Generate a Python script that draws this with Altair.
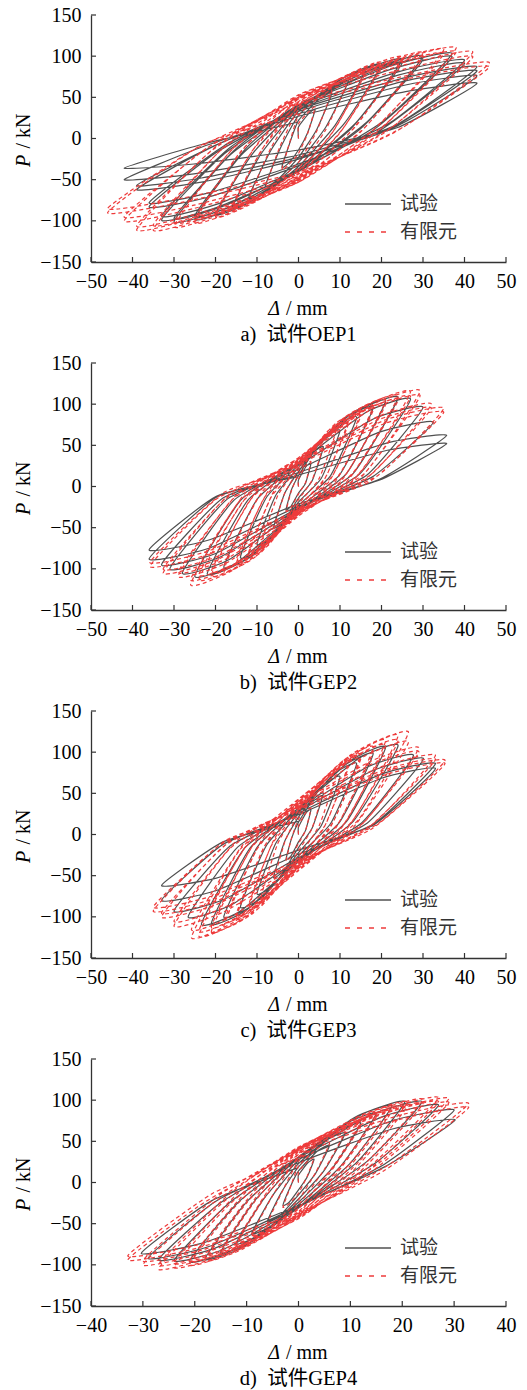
import altair as alt
import pandas as pd

SERIF = "Liberation Serif"
CJK = "Noto Sans CJK SC"
MIXED = "Liberation Serif, Noto Sans CJK SC"
GRAY = "#505050"
RED = "#ee3b3b"
AXIS_COLOR = "#333333"

X_TICKS_50 = [-50, -40, -30, -20, -10, 0, 10, 20, 30, 40, 50]
X_TICKS_40 = [-40, -30, -20, -10, 0, 10, 20, 30, 40]
Y_TICKS = [-150, -100, -50, 0, 50, 100, 150]
LEGEND_LABELS = ["试验", "有限元"]
CAPTIONS = ["a)\u2002试件OEP1", "b)\u2002试件GEP2", "c)\u2002试件GEP3", "d)\u2002试件GEP4"]

# ---- panel a: OEP1 ----
A_TEST = [
    (0, 0),
    (0, 14), (2.4, 30), (4, 35), (2.2, 7), (0, -14), (-2.4, -30), (-4, -35), (-2.2, -7),
    (0, 22), (4.8, 47), (8, 55), (4.4, 11), (0, -23), (-4.8, -49), (-8, -58), (-4.4, -12),
    (0, 28), (7.2, 60), (12, 70), (6.6, 14), (0, -29), (-7.2, -61), (-12, -72), (-6.6, -14),
    (0, 33), (9.6, 70), (16, 82), (8.8, 16), (0, -34), (-9.6, -71), (-16, -84), (-8.8, -17),
    (0, 36), (12, 77), (20, 90), (11, 18), (0, -37), (-12, -78), (-20, -92), (-11, -18),
    (0, 38), (15, 82), (25, 96), (13.8, 19), (0, -39), (-15, -83), (-25, -98), (-13.8, -20),
    (0, 37), (15, 78), (25, 92), (12.5, 11), (0, -38), (-15, -80), (-25, -94), (-12.5, -11),
    (0, 40), (18, 85), (30, 100), (16.5, 20), (0, -40), (-18, -86), (-30, -101), (-16.5, -20),
    (0, 38), (18, 82), (30, 96), (15, 12), (0, -39), (-18, -82), (-30, -97), (-15, -12),
    (0, 41), (22.2, 88), (37, 103), (20.4, 21), (0, -40), (-19.8, -84), (-33, -99), (-18.2, -20),
    (0, 40), (22.2, 84), (37, 99), (18.5, 12), (0, -38), (-19.8, -80), (-33, -94), (-16.5, -11),
    (0, 38), (24, 81), (40, 95), (22, 19), (0, -33), (-21.6, -71), (-36, -83), (-19.8, -17),
    (0, 36), (24, 77), (40, 91), (20, 11), (0, -31), (-21.6, -66), (-36, -78), (-18, -9),
    (0, 35), (25.8, 74), (43, 87), (23.7, 17), (0, -25), (-23.4, -53), (-39, -62), (-21.5, -12),
    (0, 33), (25.8, 70), (43, 82), (21.5, 10), (0, -23), (-23.4, -48), (-39, -57), (-19.5, -7),
    (0, 30), (25.8, 65), (43, 76), (23.7, 15), (0, -20), (-25.2, -43), (-42, -50), (-23.1, -10),
    (0, 27), (25.8, 57), (43, 67), (23.7, 13), (0, -14), (-25.2, -31), (-42, -36), (-23.1, -7),
    (0, 20),
]
A_FE = [
    (0, 0),
    (0, 18), (2.4, 32), (4, 38), (2.2, 6), (0, -18), (-2.4, -32), (-4, -38), (-2.2, -6),
    (0, 28), (4.8, 49), (8, 58), (4.4, 9), (0, -29), (-4.8, -51), (-8, -60), (-4.4, -9),
    (0, 35), (7.2, 61), (12, 72), (6.6, 11), (0, -36), (-7.2, -64), (-12, -75), (-6.6, -11),
    (0, 40), (9.6, 71), (16, 83), (8.8, 12), (0, -41), (-9.6, -73), (-16, -86), (-8.8, -13),
    (0, 38), (9.6, 67), (16, 79), (8, 6), (0, -39), (-9.6, -70), (-16, -82), (-8, -7),
    (0, 44), (12, 78), (20, 92), (11, 14), (0, -46), (-12, -81), (-20, -95), (-11, -14),
    (0, 42), (12, 74), (20, 87), (10, 7), (0, -43), (-12, -77), (-20, -90), (-10, -7),
    (0, 48), (15, 84), (25, 99), (13.8, 15), (0, -49), (-15, -87), (-25, -102), (-13.8, -15),
    (0, 45), (15, 80), (25, 94), (12.5, 8), (0, -47), (-15, -82), (-25, -97), (-12.5, -8),
    (0, 50), (18, 88), (30, 104), (16.5, 16), (0, -51), (-18, -91), (-30, -107), (-16.5, -16),
    (0, 48), (18, 84), (30, 99), (15, 8), (0, -49), (-18, -87), (-30, -102), (-15, -8),
    (0, 52), (21, 92), (35, 108), (19.3, 16), (0, -53), (-21, -94), (-35, -111), (-19.3, -17),
    (0, 50), (21, 88), (35, 103), (17.5, 8), (0, -50), (-21, -89), (-35, -105), (-17.5, -8),
    (0, 53), (22.8, 94), (38, 110), (20.9, 17), (0, -53), (-23.4, -94), (-39, -111), (-21.5, -17),
    (0, 50), (22.8, 89), (38, 105), (19, 8), (0, -51), (-23.4, -90), (-39, -106), (-19.5, -8),
    (0, 50), (25.2, 89), (42, 105), (23.1, 16), (0, -48), (-25.2, -85), (-42, -100), (-23.1, -15),
    (0, 48), (25.2, 84), (42, 99), (21, 8), (0, -46), (-25.2, -81), (-42, -95), (-21, -8),
    (0, 44), (27.6, 78), (46, 92), (25.3, 14), (0, -43), (-27.6, -77), (-46, -90), (-25.3, -14),
    (0, 42), (27.6, 74), (46, 87), (23, 7), (0, -41), (-27.6, -72), (-46, -85), (-23, -7),
    (0, 30),
]

# ---- panel b: GEP2 ----
B_TEST = [
    (0, 0),
    (0, 8), (1.8, 24), (3, 28), (1.7, 4), (0, -8), (-1.8, -24), (-3, -28), (-1.7, -4),
    (0, 13), (3.6, 41), (6, 48), (3.3, 7), (0, -14), (-3.6, -43), (-6, -50), (-3.3, -8),
    (0, 18), (6, 58), (10, 68), (5.5, 10), (0, -19), (-6, -60), (-10, -70), (-5.5, -11),
    (0, 23), (8.4, 71), (14, 84), (7.7, 13), (0, -23), (-8.4, -73), (-14, -86), (-7.7, -13),
    (0, 26), (10.8, 82), (18, 96), (9.9, 14), (0, -26), (-10.8, -83), (-18, -98), (-9.9, -15),
    (0, 28), (12.6, 88), (21, 104), (11.6, 16), (0, -29), (-13.2, -90), (-22, -106), (-12.1, -16),
    (0, 29), (14.4, 92), (24, 108), (13.2, 16), (0, -29), (-15, -93), (-25, -109), (-13.8, -16),
    (0, 29), (16.2, 90), (27, 106), (14.9, 16), (0, -28), (-16.8, -89), (-28, -105), (-15.4, -16),
    (0, 26), (18, 82), (30, 96), (16.5, 14), (0, -27), (-18.6, -85), (-31, -100), (-17.1, -15),
    (0, 21), (19.5, 66), (32.5, 78), (17.9, 12), (0, -26), (-19.8, -81), (-33, -95), (-18.2, -14),
    (0, 17), (21.4, 53), (35.7, 62), (19.6, 9), (0, -24), (-21.6, -75), (-36, -88), (-19.8, -13),
    (0, 14), (21.4, 44), (35.7, 52), (19.6, 8), (0, -21), (-21.6, -65), (-36, -77), (-19.8, -12),
    (0, 12),
]
B_FE = [
    (0, 0),
    (0, 9), (1.8, 26), (3, 30), (1.7, 5), (0, -9), (-1.8, -26), (-3, -30), (-1.7, -5),
    (0, 15), (3.6, 43), (6, 50), (3.3, 8), (0, -16), (-3.6, -44), (-6, -52), (-3.3, -8),
    (0, 20), (5.4, 57), (9, 67), (5, 10), (0, -21), (-5.4, -60), (-9, -70), (-5, -11),
    (0, 24), (7.2, 68), (12, 80), (6.6, 12), (0, -25), (-7.2, -71), (-12, -84), (-6.6, -13),
    (0, 23), (7.2, 65), (12, 76), (6, 6), (0, -24), (-7.2, -68), (-12, -80), (-6, -6),
    (0, 27), (9, 77), (15, 90), (8.3, 14), (0, -28), (-9, -80), (-15, -94), (-8.3, -14),
    (0, 26), (9, 73), (15, 86), (7.5, 7), (0, -27), (-9, -76), (-15, -89), (-7.5, -7),
    (0, 29), (10.8, 83), (18, 98), (9.9, 15), (0, -31), (-10.8, -87), (-18, -102), (-9.9, -15),
    (0, 28), (10.8, 79), (18, 93), (9, 7), (0, -29), (-10.8, -82), (-18, -97), (-9, -8),
    (0, 32), (12.6, 89), (21, 105), (11.6, 16), (0, -32), (-12.6, -92), (-21, -108), (-11.6, -16),
    (0, 30), (12.6, 85), (21, 100), (10.5, 8), (0, -31), (-12.6, -88), (-21, -103), (-10.5, -8),
    (0, 33), (14.4, 94), (24, 110), (13.2, 17), (0, -34), (-14.4, -96), (-24, -113), (-13.2, -17),
    (0, 32), (14.4, 89), (24, 105), (12, 8), (0, -32), (-14.4, -91), (-24, -107), (-12, -9),
    (0, 35), (16.2, 98), (27, 115), (14.9, 17), (0, -36), (-15.6, -101), (-26, -119), (-14.3, -18),
    (0, 33), (16.2, 93), (27, 109), (13.5, 9), (0, -34), (-15.6, -96), (-26, -113), (-13, -9),
    (0, 35), (17.6, 99), (29.3, 116), (16.1, 17), (0, -33), (-17.4, -93), (-29, -109), (-16, -16),
    (0, 33), (17.6, 94), (29.3, 110), (14.7, 9), (0, -31), (-17.4, -88), (-29, -104), (-14.5, -8),
    (0, 30), (19.2, 85), (32, 100), (17.6, 15), (0, -32), (-19.6, -89), (-32.6, -105), (-17.9, -16),
    (0, 29), (19.2, 81), (32, 95), (16, 8), (0, -30), (-19.6, -85), (-32.6, -100), (-16.3, -8),
    (0, 29), (21, 81), (35, 95), (19.3, 14), (0, -29), (-21.5, -82), (-35.8, -97), (-19.7, -15),
    (0, 27), (21, 77), (35, 90), (17.5, 7), (0, -28), (-21.5, -78), (-35.8, -92), (-17.9, -7),
    (0, 20),
]

# ---- panel c: GEP3 ----
C_TEST = [
    (0, 0),
    (0, 9), (1.8, 26), (3, 30), (1.7, 5), (0, -9), (-1.8, -26), (-3, -30), (-1.7, -5),
    (0, 15), (3.6, 43), (6, 50), (3.3, 8), (0, -16), (-3.6, -44), (-6, -52), (-3.3, -8),
    (0, 21), (6, 60), (10, 70), (5.5, 11), (0, -22), (-6, -61), (-10, -72), (-5.5, -11),
    (0, 26), (8.4, 73), (14, 86), (7.7, 13), (0, -26), (-8.4, -75), (-14, -88), (-7.7, -13),
    (0, 29), (10.8, 83), (18, 98), (9.9, 15), (0, -30), (-10.8, -85), (-18, -100), (-9.9, -15),
    (0, 32), (12.6, 90), (21, 106), (11.6, 16), (0, -32), (-12.6, -92), (-21, -108), (-11.6, -16),
    (0, 32), (14.4, 92), (24, 108), (13.2, 16), (0, -33), (-14, -93), (-23.4, -109), (-12.9, -16),
    (0, 29), (16.6, 82), (27.7, 96), (15.2, 14), (0, -30), (-16, -85), (-26.6, -100), (-14.6, -15),
    (0, 28), (18.1, 78), (30.1, 92), (16.6, 14), (0, -28), (-18, -79), (-30, -93), (-16.5, -14),
    (0, 26), (19.8, 73), (33, 86), (18.2, 13), (0, -24), (-19.8, -68), (-33, -80), (-18.2, -12),
    (0, 24), (19.8, 68), (33, 80), (18.2, 12), (0, -19), (-19.8, -53), (-33, -62), (-18.2, -9),
    (0, 16),
]
C_FE = [
    (0, 0),
    (0, 11), (1.8, 27), (3, 32), (1.7, 5), (0, -11), (-1.8, -27), (-3, -32), (-1.7, -5),
    (0, 19), (3.6, 47), (6, 55), (3.3, 8), (0, -20), (-3.6, -49), (-6, -58), (-3.3, -9),
    (0, 25), (5.4, 61), (9, 72), (5, 11), (0, -27), (-5.4, -65), (-9, -76), (-5, -11),
    (0, 30), (7.2, 73), (12, 86), (6.6, 13), (0, -32), (-7.2, -77), (-12, -90), (-6.6, -14),
    (0, 29), (7.2, 70), (12, 82), (6, 7), (0, -30), (-7.2, -73), (-12, -86), (-6, -7),
    (0, 34), (9, 82), (15, 97), (8.3, 15), (0, -36), (-9, -87), (-15, -102), (-8.3, -15),
    (0, 32), (9, 78), (15, 92), (7.5, 7), (0, -34), (-9, -82), (-15, -97), (-7.5, -8),
    (0, 37), (10.8, 90), (18, 106), (9.9, 16), (0, -39), (-10.8, -95), (-18, -112), (-9.9, -17),
    (0, 35), (10.8, 86), (18, 101), (9, 8), (0, -37), (-10.8, -90), (-18, -106), (-9, -8),
    (0, 40), (12.6, 97), (21, 114), (11.6, 17), (0, -41), (-12.6, -100), (-21, -118), (-11.6, -18),
    (0, 38), (12.6, 92), (21, 108), (10.5, 9), (0, -39), (-12.6, -95), (-21, -112), (-10.5, -9),
    (0, 42), (14.4, 102), (24, 120), (13.2, 18), (0, -43), (-14.4, -105), (-24, -123), (-13.2, -18),
    (0, 40), (14.4, 97), (24, 114), (12, 9), (0, -41), (-14.4, -99), (-24, -117), (-12, -9),
    (0, 43), (15.9, 105), (26.5, 124), (14.6, 19), (0, -44), (-15.5, -106), (-25.8, -125), (-14.2, -19),
    (0, 39), (15.9, 95), (26.5, 112), (13.3, 9), (0, -40), (-15.5, -98), (-25.8, -115), (-12.9, -9),
    (0, 37), (17.4, 89), (29, 105), (16, 16), (0, -39), (-18, -94), (-30, -111), (-16.5, -17),
    (0, 35), (17.4, 85), (29, 100), (14.5, 8), (0, -37), (-18, -89), (-30, -105), (-15, -8),
    (0, 34), (19.8, 82), (33, 96), (18.2, 14), (0, -35), (-19.8, -85), (-33, -100), (-18.2, -15),
    (0, 32), (19.8, 77), (33, 91), (16.5, 7), (0, -33), (-19.8, -81), (-33, -95), (-16.5, -8),
    (0, 32), (21.2, 77), (35.3, 90), (19.4, 14), (0, -33), (-21, -79), (-35, -93), (-19.3, -14),
    (0, 30), (21.2, 73), (35.3, 86), (17.7, 7), (0, -31), (-21, -75), (-35, -88), (-17.5, -7),
    (0, 22),
]

# ---- panel d: GEP4 ----
D_TEST = [
    (0, 0),
    (0, 9), (1.8, 24), (3, 28), (1.7, 7), (0, -9), (-1.8, -24), (-3, -28), (-1.7, -7),
    (0, 14), (3.6, 38), (6, 45), (3.3, 11), (0, -15), (-3.6, -40), (-6, -47), (-3.3, -12),
    (0, 19), (5.4, 51), (9, 60), (5, 15), (0, -20), (-5.4, -53), (-9, -62), (-5, -16),
    (0, 23), (7.2, 61), (12, 72), (6.6, 18), (0, -24), (-7.2, -63), (-12, -74), (-6.6, -19),
    (0, 27), (9, 71), (15, 84), (8.3, 21), (0, -27), (-9, -72), (-15, -85), (-8.3, -21),
    (0, 30), (10.8, 79), (18, 93), (9.9, 23), (0, -30), (-10.8, -79), (-18, -93), (-9.9, -23),
    (0, 31), (12.3, 83), (20.5, 98), (11.3, 25), (0, -31), (-12.6, -82), (-21, -96), (-11.6, -24),
    (0, 31), (14.3, 83), (23.8, 98), (13.1, 25), (0, -30), (-14.4, -81), (-24, -95), (-13.2, -24),
    (0, 30), (16.2, 80), (27, 94), (14.9, 24), (0, -30), (-16.2, -80), (-27, -94), (-14.9, -24),
    (0, 28), (18, 75), (30, 88), (16.5, 22), (0, -29), (-17.4, -78), (-29, -92), (-16, -23),
    (0, 24), (18.1, 65), (30.2, 76), (16.6, 19), (0, -28), (-18.2, -73), (-30.3, -86), (-16.7, -22),
    (0, 18),
]
D_FE = [
    (0, 0),
    (0, 13), (1.8, 26), (3, 30), (1.7, 8), (0, -13), (-1.8, -26), (-3, -30), (-1.7, -8),
    (0, 20), (3.6, 41), (6, 48), (3.3, 12), (0, -21), (-3.6, -43), (-6, -50), (-3.3, -13),
    (0, 26), (5.4, 53), (9, 62), (5, 16), (0, -27), (-5.4, -55), (-9, -65), (-5, -16),
    (0, 31), (7.2, 63), (12, 74), (6.6, 19), (0, -32), (-7.2, -65), (-12, -77), (-6.6, -19),
    (0, 29), (7.2, 60), (12, 70), (6, 11), (0, -31), (-7.2, -62), (-12, -73), (-6, -11),
    (0, 35), (9, 71), (15, 84), (8.3, 21), (0, -37), (-9, -74), (-15, -87), (-8.3, -22),
    (0, 34), (9, 68), (15, 80), (7.5, 12), (0, -35), (-9, -71), (-15, -83), (-7.5, -12),
    (0, 39), (10.8, 78), (18, 92), (9.9, 23), (0, -40), (-10.8, -81), (-18, -95), (-9.9, -24),
    (0, 37), (10.8, 74), (18, 87), (9, 13), (0, -38), (-10.8, -77), (-18, -90), (-9, -14),
    (0, 41), (12.6, 83), (21, 98), (11.6, 25), (0, -42), (-12.6, -85), (-21, -100), (-11.6, -25),
    (0, 39), (12.6, 79), (21, 93), (10.5, 14), (0, -40), (-12.6, -81), (-21, -95), (-10.5, -14),
    (0, 42), (14.4, 86), (24, 101), (13.2, 25), (0, -43), (-14.4, -88), (-24, -103), (-13.2, -26),
    (0, 40), (14.4, 82), (24, 96), (12, 14), (0, -41), (-14.4, -83), (-24, -98), (-12, -15),
    (0, 43), (16.2, 88), (27, 103), (14.9, 26), (0, -44), (-16.2, -89), (-27, -105), (-14.9, -26),
    (0, 41), (16.2, 83), (27, 98), (13.5, 15), (0, -42), (-16.2, -85), (-27, -100), (-13.5, -15),
    (0, 43), (17.4, 87), (29, 102), (16, 26), (0, -42), (-18, -85), (-30, -100), (-16.5, -25),
    (0, 41), (17.4, 82), (29, 97), (14.5, 15), (0, -40), (-18, -81), (-30, -95), (-15, -14),
    (0, 40), (19.7, 82), (32.8, 96), (18, 24), (0, -39), (-19.7, -80), (-32.9, -94), (-18.1, -24),
    (0, 38), (19.7, 77), (32.8, 91), (16.4, 14), (0, -37), (-19.7, -76), (-32.9, -89), (-16.5, -13),
    (0, 30),
]

W, H = 415, 247


def text_layer(s, x, y, font=SERIF, size=20, style="normal", align="center", angle=0, color="black"):
    return alt.Chart(pd.DataFrame({"t": [s]})).mark_text(
        font=font, fontSize=size, fontStyle=style, align=align, baseline="middle",
        angle=angle, color=color
    ).encode(x=alt.value(x), y=alt.value(y), text="t:N")


def panel(test_pts, fe_pts, xdom, xticks, caption):
    df_t = pd.DataFrame(test_pts, columns=["d", "p"])
    df_t["i"] = range(len(df_t))
    df_f = pd.DataFrame(fe_pts, columns=["d", "p"])
    df_f["i"] = range(len(df_f))

    xs = alt.Scale(domain=xdom, nice=False, zero=False)
    ys = alt.Scale(domain=[-150, 150], nice=False, zero=False)
    common = dict(
        title=None, grid=False, ticks=False, tickSize=0,
        labelFont=SERIF, labelFontSize=20, labelColor="black",
        labelFlush=False, labelOverlap=False,
        domainColor=AXIS_COLOR, domainWidth=1.3,
    )
    xax = alt.Axis(values=xticks, labelPadding=9, **common)
    yax = alt.Axis(values=Y_TICKS, labelPadding=10, **common)

    test = alt.Chart(df_t).mark_line(
        color=GRAY, strokeWidth=1.2, interpolate="cardinal", tension=0.5
    ).encode(
        x=alt.X("d:Q", scale=xs, axis=xax),
        y=alt.Y("p:Q", scale=ys, axis=yax),
        order="i:Q",
    )
    fe = alt.Chart(df_f).mark_line(
        color=RED, strokeWidth=1.2, strokeDash=[4, 3], interpolate="cardinal", tension=0.5,
    ).encode(
        x=alt.X("d:Q", scale=xs, axis=xax),
        y=alt.Y("p:Q", scale=ys, axis=yax),
        order="i:Q",
    )
    xt = alt.Chart(pd.DataFrame({"v": xticks})).mark_rule(
        color=AXIS_COLOR, strokeWidth=1.2
    ).encode(
        x=alt.X("v:Q", scale=xs, axis=xax), y=alt.value(H), y2=alt.value(H - 5)
    )
    yt = alt.Chart(pd.DataFrame({"v": Y_TICKS})).mark_rule(
        color=AXIS_COLOR, strokeWidth=1.2
    ).encode(
        y=alt.Y("v:Q", scale=ys, axis=yax), x=alt.value(0), x2=alt.value(5)
    )
    one = pd.DataFrame({"k": [0]})
    leg1 = alt.Chart(one).mark_rule(color=GRAY, strokeWidth=1.3).encode(
        x=alt.value(254), x2=alt.value(300), y=alt.value(189)
    )
    leg2 = alt.Chart(one).mark_rule(color=RED, strokeWidth=1.3, strokeDash=[5, 7]).encode(
        x=alt.value(254), x2=alt.value(300), y=alt.value(217)
    )
    layers = [
        test, fe, xt, yt, leg1, leg2,
        text_layer(LEGEND_LABELS[0], 309, 189, font=CJK, size=19, align="left", color="#333333"),
        text_layer(LEGEND_LABELS[1], 309, 217, font=CJK, size=19, align="left", color="#333333"),
        text_layer("Δ", 183, 294, style="italic"),
        text_layer("/ mm", 195, 294, align="left"),
        text_layer("P", -67, 146, style="italic", angle=270),
        text_layer("/ kN", -67, 116, angle=270),
        text_layer(caption, W / 2, 320, font=MIXED, size=20.5),
    ]
    return alt.layer(*layers).properties(width=W, height=H)


panels = [
    panel(A_TEST, A_FE, [-50, 50], X_TICKS_50, CAPTIONS[0]),
    panel(B_TEST, B_FE, [-50, 50], X_TICKS_50, CAPTIONS[1]),
    panel(C_TEST, C_FE, [-50, 50], X_TICKS_50, CAPTIONS[2]),
    panel(D_TEST, D_FE, [-40, 40], X_TICKS_40, CAPTIONS[3]),
]

chart = alt.vconcat(*panels, spacing=7).properties(
    padding={"left": 14, "top": 5, "right": 5, "bottom": 2},
    background="white",
).configure_view(stroke=None)

chart.save("out.html", embed_options={"renderer": "svg", "actions": False})
